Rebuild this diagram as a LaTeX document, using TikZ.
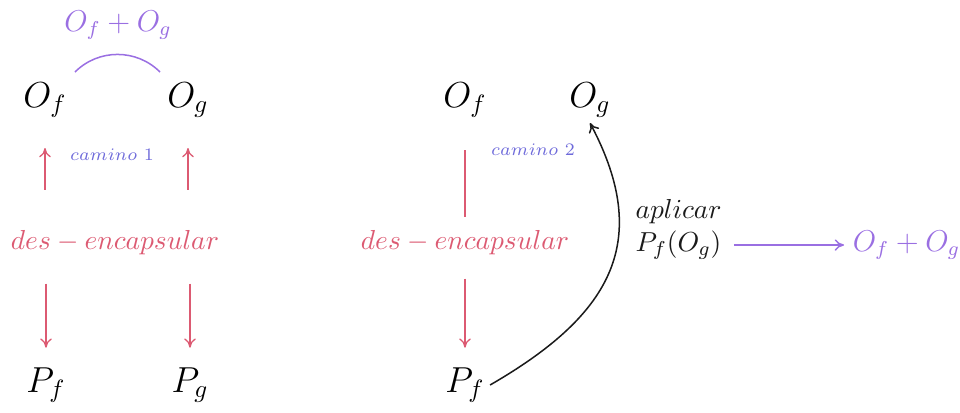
\documentclass[tikz,border=0pt]{standalone}
\usepackage{amsmath,amssymb}
\usepackage{xcolor}
\usepackage{tikz}
\usetikzlibrary{arrows.meta,positioning,calc}
\definecolor{encred}{HTML}{DC5A72}
\definecolor{encviolet}{HTML}{9A6FE2}
\definecolor{encblue}{HTML}{6E6ADA}
\definecolor{encblack}{HTML}{1A1A1A}

\begin{document}
\begin{tikzpicture}[
    x=0.014cm, y=-0.014cm,
    obj/.style={font=\Large, inner sep=2pt},
    deslbl/.style={font=\fontsize{11}{13}\selectfont, text=encred, inner sep=2pt},
    camlbl/.style={font=\fontsize{7.5}{9}\selectfont, text=encblue},
    sumlbl/.style={font=\large, text=encviolet},
    redarr/.style={-{To[length=1.3mm,width=1.6mm]}, draw=encred, line width=0.5pt},
    redline/.style={draw=encred, line width=0.5pt},
    violetarr/.style={-{To[length=1.3mm,width=1.6mm]}, draw=encviolet, line width=0.6pt},
    blackarr/.style={-{To[length=1.3mm,width=1.6mm]}, draw=encblack, line width=0.6pt}
]
    \useasboundingbox (0,0) rectangle (960,412);

    % Left: camino 1
    \node (of1) [obj] at (45,100) {$O_f$};
    \node (og1) [obj] at (188,100) {$O_g$};
    \node (sum1) [sumlbl] at (118,25) {$O_f + O_g$};
    \node (cam1) [camlbl] at (112,155) {$camino\ 1$};
    \node (des1) [deslbl] at (115,243) {$des - encapsular$};
    \node (pf1) [obj] at (46,385) {$P_f$};
    \node (pg1) [obj] at (190,385) {$P_g$};

    \coordinate (arcl) at (75,72);
    \coordinate (arcr) at (160,72);
    \draw [draw=encviolet, line width=0.6pt] (arcl) to[bend left=45] (arcr);

    \draw [redarr, shorten <=0.5cm, shorten >=0.35cm] (des1.north -| of1) -- (of1);
    \draw [redarr, shorten <=0.5cm, shorten >=0.35cm] (des1.north -| og1) -- (og1);
    \draw [redarr, shorten <=0.32cm, shorten >=0.2cm] (des1.south -| pf1) -- (pf1);
    \draw [redarr, shorten <=0.32cm, shorten >=0.2cm] (des1.south -| pg1) -- (pg1);

    % Right: camino 2
    \node (of2) [obj] at (465,100) {$O_f$};
    \node (og2) [obj] at (590,100) {$O_g$};
    \node (cam2) [camlbl] at (533,150) {$camino\ 2$};
    \node (des2) [deslbl] at (465,243) {$des - encapsular$};
    \node (pf2) [obj] at (465,385) {$P_f$};
    \node (apl) [deslbl, text=encblack, anchor=west] at (630,212) {$aplicar$};
    \node (pfog) [deslbl, text=encblack, anchor=west] at (630,245) {$P_f(O_g)$};
    \node (sum2) [sumlbl, anchor=west] at (844,245) {$O_f + O_g$};

    \draw [redline, shorten <=0.38cm, shorten >=0.12cm] (of2) -- (des2);
    \draw [redarr, shorten <=0.25cm, shorten >=0.2cm] (des2) -- (pf2);
    \draw [blackarr] (pf2.east) to[out=30, in=-62, looseness=1.25] (og2.south);
    \draw [violetarr, shorten <=0.1cm] (pfog) -- (sum2);
\end{tikzpicture}
\end{document}
